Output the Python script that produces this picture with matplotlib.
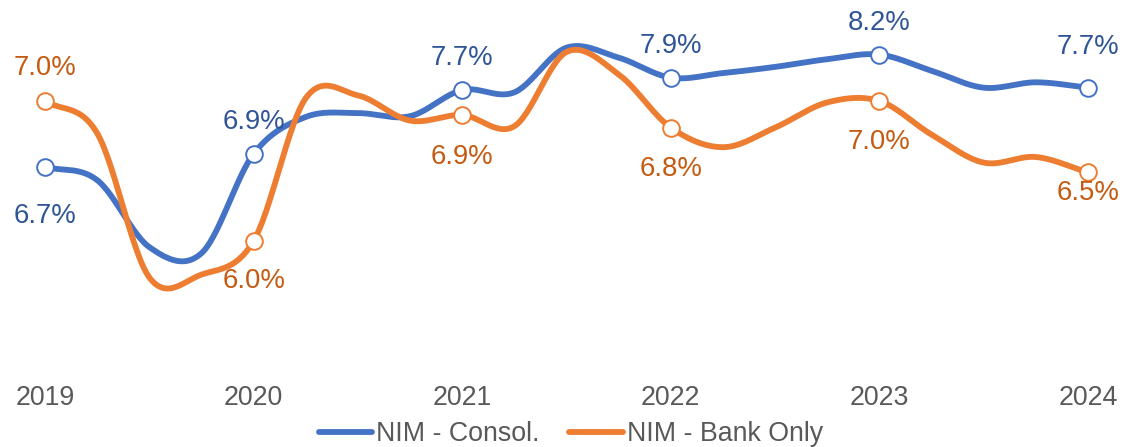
import matplotlib
matplotlib.use("Agg")
import matplotlib.pyplot as plt
import numpy as np

# quarterly series, 2019 Q4 .. 2024 Q4 (markers / labels on each year-end)
years = ["2019", "2020", "2021", "2022", "2023", "2024"]
nim_consol = [6.70, 6.53, 5.66, 5.58, 6.87, 7.35, 7.40, 7.36, 7.70, 7.67, 8.25,
              8.12, 7.86, 7.92, 8.00, 8.10, 8.16, 7.95, 7.73, 7.80, 7.73]
nim_bank = [7.00, 6.77, 5.74, 5.76, 6.00, 7.02, 7.04, 6.86, 6.90, 6.82, 7.35,
            7.19, 6.81, 6.67, 6.81, 6.99, 7.00, 6.76, 6.56, 6.60, 6.49]

BLUE = "#4472C4"
ORANGE = "#ED7D31"
BLUE_TXT = "#2F5597"
ORANGE_TXT = "#C55A11"
GREY = "#595959"
FONT = "Liberation Sans"
FS = 19.3
FS_LBL = 19.8


def smooth(y, n=30):
    """Catmull-Rom curve through the points, like Excel's smoothed line."""
    y = np.asarray(y, float)
    m = np.empty_like(y)
    m[1:-1] = (y[2:] - y[:-2]) / 2
    m[0] = y[1] - y[0]
    m[-1] = y[-1] - y[-2]
    t = np.linspace(0, 1, n, endpoint=False)
    h00 = 2 * t**3 - 3 * t**2 + 1
    h10 = t**3 - 2 * t**2 + t
    h01 = -2 * t**3 + 3 * t**2
    h11 = t**3 - t**2
    xs, ys = [], []
    for i in range(len(y) - 1):
        xs.append(i + t)
        ys.append(h00 * y[i] + h10 * m[i] + h01 * y[i + 1] + h11 * m[i + 1])
    xs.append([len(y) - 1])
    ys.append([y[-1]])
    return np.concatenate(xs), np.concatenate(ys)


W, H = 1124, 447
fig = plt.figure(figsize=(W / 100, H / 100), dpi=100)
ax = fig.add_axes([0, 77 / H, 1, 370 / H])
ax2 = ax.twinx()

n = len(nim_consol)
step = (1088 - 45) / (n - 1)
for a in (ax, ax2):
    a.set_xlim(-45 / step, n - 1 + (W - 1088) / step)
    for s in a.spines.values():
        s.set_visible(False)
    a.set_yticks([])
ax.set_ylim(6.7 - 203 / 77, 6.7 + 167 / 77)
ax2.set_ylim(7.0 - 269 / 140, 7.0 + 101 / 140)

annual = np.arange(0, n, 4)
ax.set_xticks(annual, years)
ax.tick_params(axis="x", length=0, pad=11, labelsize=FS, labelcolor=GREY)
for lbl in ax.get_xticklabels():
    lbl.set_fontfamily(FONT)

# consolidated on the left scale, bank only on the right one
for a, vals, col, tcol, offs in [
    (ax, nim_consol, BLUE, BLUE_TXT, [-35, 23, 23, 23, 23, 29]),
    (ax2, nim_bank, ORANGE, ORANGE_TXT, [24, -29, -30, -29.5, -29.5, -15]),
]:
    xs, ys = smooth(vals)
    a.plot(xs, ys, color=col, lw=4.2, solid_capstyle="round", zorder=2)
    yv = np.asarray(vals)[annual]
    a.plot(annual, yv, "o", ms=12, mfc="white", mec=col, mew=1.4, zorder=3)
    for xi, v, dy in zip(annual, yv, offs):
        a.annotate(f"{v:.1f}%", (xi, v), xytext=(0, dy), textcoords="offset points",
                   ha="center", va="center", fontsize=FS_LBL, color=tcol, family=FONT)

handles = [plt.Line2D([], [], color=BLUE, lw=4.2, solid_capstyle="round"),
           plt.Line2D([], [], color=ORANGE, lw=4.2, solid_capstyle="round")]
leg = fig.legend(handles, ["NIM - Consol.", "NIM - Bank Only"], loc="center",
                 bbox_to_anchor=(571 / W, 1 - 434 / H), ncol=2, frameon=False,
                 handlelength=2.0, handletextpad=0.15, columnspacing=1.1,
                 prop={"family": FONT, "size": FS}, borderaxespad=0, borderpad=0)
for t in leg.get_texts():
    t.set_color(GREY)

fig.savefig("out.png", dpi=100)
